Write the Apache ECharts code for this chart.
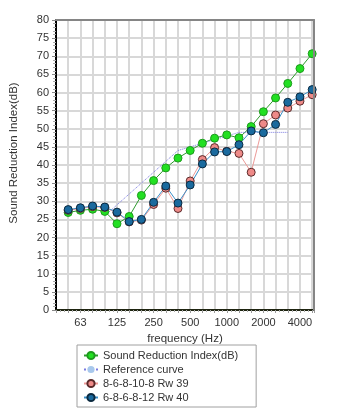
<!DOCTYPE html>
<html>
<head>
<meta charset="utf-8">
<script src="https://cdn.jsdelivr.net/npm/echarts@6/dist/echarts.min.js"></script>
<style>html,body{margin:0;padding:0;background:#fff;}#c{width:348px;height:414px;}</style>
</head>
<body>
<div id="c"></div>
<script>
var bands = ['50','63','80','100','125','160','200','250','315','400','500','630','800','1000','1250','1600','2000','2500','3150','4000','5000'];
var tickLabels = ['63','125','250','500','1000','2000','4000'];
var sri = [26.9,27.5,27.8,27.2,23.8,25.8,31.6,35.7,39.2,41.9,44.0,46.0,47.4,48.3,47.5,50.6,54.7,58.5,62.5,66.6,70.7];
var refCurve = [null,null,null,26,29,32,35,38,41,44,45,46,47,48,49,49,49,49,49,null,null];
var seriesA = [27.5,28.0,28.5,28.3,26.8,24.3,24.8,29.1,33.6,28.0,35.6,41.5,44.8,43.8,43.2,38.0,51.4,53.8,55.7,57.6,59.4];
var seriesB = [27.7,28.2,28.7,28.4,27.0,24.4,25.0,29.7,34.2,29.5,34.5,40.3,43.6,43.7,45.6,49.4,48.9,51.2,57.3,58.8,60.8];
var names = ['Sound Reduction Index(dB)','Reference curve','8-6-8-10-8 Rw 39','6-8-6-8-12 Rw 40'];

function pairs(arr){
  var out = [];
  for (var i = 0; i < arr.length; i++) out.push([i, arr[i]]);
  return out;
}

var chart = echarts.init(document.getElementById('c'), null, {renderer:'canvas'});
var font = 'Liberation Sans, Arial, sans-serif';
chart.setOption({
  animation: false,
  backgroundColor: '#fff',
  textStyle: {fontFamily: font},
  grid: {left: 51, right: 34, top: 20, bottom: 104, show: false, containLabel: false},
  xAxis: [{
    type: 'value', min: -1, max: 20.15, interval: 1,
    name: 'frequency (Hz)', nameLocation: 'middle', nameGap: 21,
    nameTextStyle: {fontSize: 11.5, color: '#333', fontFamily: font},
    axisLine: {show: true, onZero: false, lineStyle: {color: '#1e2410', width: 2}},
    axisTick: {show: true, length: 3, lineStyle: {color: '#999'}},
    minorTick: {show: true, splitNumber: 3, length: 2, lineStyle: {color: '#aaa'}},
    axisLabel: {
      fontSize: 11, color: '#333', fontFamily: font, margin: 7,
      formatter: function(v){ var i = Math.round(v); if (Math.abs(v - i) > 1e-6) return ''; var b = bands[i]; return (b && tickLabels.indexOf(b) >= 0) ? b : ''; }
    },
    splitLine: {show: true, lineStyle: {color: '#d8d8d8', width: 2}},
    z: 3
  }, {
    type: 'value', min: -1, max: 20.15, position: 'top',
    axisLine: {show: true, onZero: false, lineStyle: {color: '#858585', width: 2}},
    axisTick: {show: false}, axisLabel: {show: false}, splitLine: {show: false}, z: 6
  }],
  yAxis: [{
    type: 'value', min: 0, max: 80, interval: 5,
    name: 'Sound Reduction Index(dB)', nameLocation: 'middle', nameGap: 36, nameRotate: 90,
    nameTextStyle: {fontSize: 11.5, color: '#333', fontFamily: font, padding: [0,0,0,24]},
    axisLine: {show: true, onZero: false, lineStyle: {color: '#000', width: 2}},
    axisTick: {show: true, length: 4, lineStyle: {color: '#888'}},
    minorTick: {show: true, splitNumber: 5, length: 3, lineStyle: {color: '#aaa'}},
    axisLabel: {fontSize: 11, color: '#333', fontFamily: font, margin: 7},
    splitLine: {show: true, lineStyle: {color: '#d8d8d8', width: 2}},
    z: 3
  }, {
    type: 'value', min: 0, max: 80, position: 'right',
    axisLine: {show: true, onZero: false, lineStyle: {color: '#858585', width: 2}},
    axisTick: {show: false}, axisLabel: {show: false}, splitLine: {show: false}, z: 6
  }],
  legend: {
    orient: 'vertical', left: 77, top: 345, itemGap: 3,
    itemWidth: 14, itemHeight: 9,
    padding: [5, 18, 4, 6],
    borderColor: '#a0a0a0', borderWidth: 1,
    textStyle: {fontSize: 11, color: '#333', fontFamily: font},
    data: names
  },
  series: [
    {
      name: names[0], type: 'line', data: pairs(sri),
      symbol: 'circle', symbolSize: 8,
      itemStyle: {color: '#22e022', borderColor: '#1d9a1d', borderWidth: 1},
      lineStyle: {color: '#2e9a2e', width: 1}
    },
    {
      name: names[1], type: 'line', data: pairs(refCurve),
      symbol: 'none', connectNulls: false,
      itemStyle: {color: '#a8c8ec'},
      lineStyle: {color: '#7a7ae0', width: 1, type: 'dotted'}
    },
    {
      name: names[2], type: 'line', data: pairs(seriesA),
      symbol: 'circle', symbolSize: 8,
      itemStyle: {color: '#ee8a88', borderColor: '#5a2a2a', borderWidth: 1},
      lineStyle: {color: '#ec9a98', width: 1}
    },
    {
      name: names[3], type: 'line', data: pairs(seriesB),
      symbol: 'circle', symbolSize: 8,
      itemStyle: {color: '#1a6a9e', borderColor: '#0b2a40', borderWidth: 1},
      lineStyle: {color: '#3a90c8', width: 1}
    }
  ]
});
</script>
</body>
</html>
